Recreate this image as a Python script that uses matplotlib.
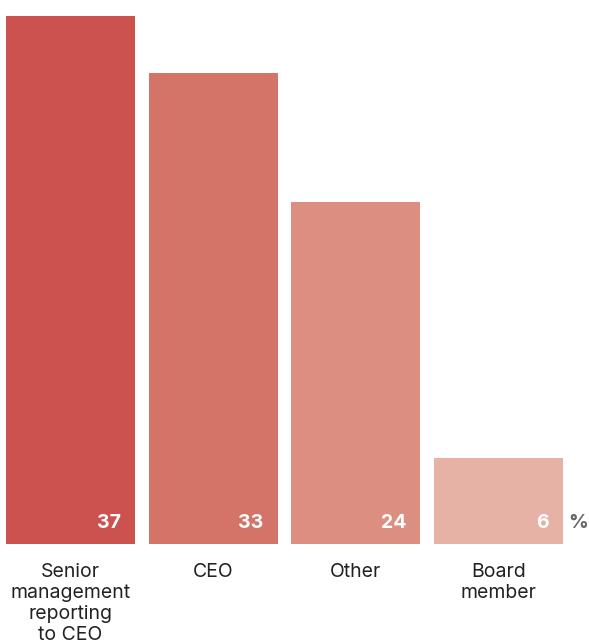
import matplotlib
matplotlib.use("Agg")
import matplotlib.pyplot as plt

categories = ["Senior\nmanagement\nreporting\nto CEO", "CEO", "Other", "Board\nmember"]
values = [37, 33, 24, 6]
colors = ["#CB524E", "#D47468", "#DC8F80", "#E5B2A5"]

plt.rcParams["font.family"] = ["Inter", "DejaVu Sans"]

W, H = 589, 644
fig = plt.figure(figsize=(W / 100, H / 100), dpi=100)
ax = fig.add_axes([0, 100 / H, 1, 544 / H])

spacing = 142.67
xs = list(range(len(values)))
ax.bar(xs, values, width=129 / spacing, color=colors, align="center")
ax.set_xlim((0 - 70.5) / spacing, (W - 70.5) / spacing)
ax.set_ylim(0, 37 * 544 / 528)
ax.axis("off")

for x, v in zip(xs, values):
    ax.text(x + 0.5 * 129 / spacing - 14 / spacing, 1.5, str(v), ha="right", va="center",
            color="white", fontsize=14, fontweight="bold")

ax.text((578 - 70.5) / spacing, 1.5, "%", ha="center", va="center",
        color="#666666", fontsize=14, fontweight="bold")

for x, c in zip(xs, categories):
    ax.annotate(c, xy=(x, 0), xycoords="data", xytext=(0, -14), textcoords="offset points",
                ha="center", va="top", fontsize=14, color="#222222", linespacing=1.2)

fig.savefig("out.png", dpi=100)
